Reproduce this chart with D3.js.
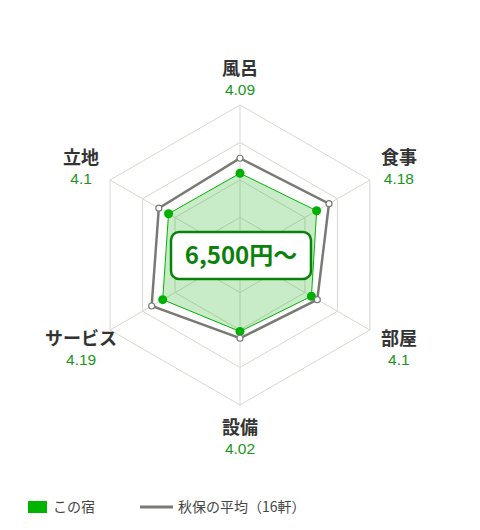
<!DOCTYPE html>
<html>
<head>
<meta charset="utf-8">
<script src="https://cdn.jsdelivr.net/npm/d3@7"></script>
<style>
  body { margin: 0; background: #fff; }
  svg { font-family: "Noto Sans CJK JP", "Noto Sans", sans-serif; }
</style>
</head>
<body>
<div class="radar"></div>
<script>
// axis names, clockwise from top
const categories = ['風呂', '食事', '部屋', '設備', 'サービス', '立地']
const hotelScores = [4.09, 4.18, 4.1, 4.02, 4.19, 4.1]
const areaAverage = [4.29, 4.37, 4.19, 4.11, 4.36, 4.25]
const ringLevels = [3.5, 4, 4.5, 5]
const priceLabel = '6,500円～'
const legendLabels = ['この宿', '秋保の平均（16軒）']

const width = 480
const height = 530
const cx = 240
const cy = 255
const radius = 150

const svg = d3.select('.radar').append('svg')
  .attr('width', width)
  .attr('height', height)

const r = d3.scaleLinear().domain([3, 5]).range([0, radius])
const angle = d3.scaleLinear().domain([0, categories.length]).range([0, 2 * Math.PI])

const pt = (i, v) => {
  const a = angle(i)
  return [cx + r(v) * Math.sin(a), cy - r(v) * Math.cos(a)]
}

const line = d3.line()
const closed = vals => line(vals.map((v, i) => pt(i, v))) + 'Z'

const grid = svg.append('g')

// rings
grid.selectAll('.ring')
  .data(ringLevels)
  .enter()
  .append('path')
  .attr('d', lv => closed(categories.map(() => lv)))
  .attr('fill', 'none')
  .attr('stroke', '#d8d8cf')
  .attr('stroke-width', 1)

// spokes
grid.selectAll('.spoke')
  .data(categories)
  .enter()
  .append('line')
  .attr('x1', cx)
  .attr('y1', cy)
  .attr('x2', (d, i) => pt(i, 5)[0])
  .attr('y2', (d, i) => pt(i, 5)[1])
  .attr('stroke', '#d8d8cf')
  .attr('stroke-width', 1)

// this hotel
svg.append('path')
  .attr('d', closed(hotelScores))
  .attr('fill', 'rgba(30, 180, 30, 0.25)')
  .attr('stroke', '#00b400')
  .attr('stroke-width', 1)

// area average
svg.append('path')
  .attr('d', closed(areaAverage))
  .attr('fill', 'none')
  .attr('stroke', '#7a7a74')
  .attr('stroke-width', 2.5)

svg.selectAll('.dot')
  .data(hotelScores)
  .enter()
  .append('circle')
  .attr('cx', (v, i) => pt(i, v)[0])
  .attr('cy', (v, i) => pt(i, v)[1])
  .attr('r', 4.5)
  .attr('fill', '#00b000')

svg.selectAll('.avgdot')
  .data(areaAverage)
  .enter()
  .append('circle')
  .attr('cx', (v, i) => pt(i, v)[0])
  .attr('cy', (v, i) => pt(i, v)[1])
  .attr('r', 3)
  .attr('fill', '#fff')
  .attr('stroke', '#7a7a74')
  .attr('stroke-width', 1.2)

// axis labels: name + score as two lines of one text
const labelPos = (i) => {
  const a = angle(i)
  const s = Math.sin(a)
  const c = Math.cos(a)
  if (Math.abs(s) < 0.01) {
    return c > 0 ? [cx, cy - radius - 30] : [cx, cy + radius + 29]
  }
  return [cx + s * radius + Math.sign(s) * 29, cy - c * radius + (c > 0 ? -16 : 15)]
}

const labels = svg.selectAll('.lbl')
  .data(categories)
  .enter()
  .append('text')
  .attr('transform', (d, i) => `translate(${labelPos(i)})`)
  .attr('text-anchor', 'middle')

labels.append('tspan')
  .attr('x', 0)
  .style('font-size', '18px')
  .style('font-weight', 700)
  .style('fill', '#333')
  .text(d => d)

labels.append('tspan')
  .attr('x', 0)
  .attr('dy', 20)
  .style('font-family', '"Liberation Sans", Arial, sans-serif')
  .style('font-size', '15.5px')
  .style('fill', '#1a961a')
  .text((d, i) => hotelScores[i])

// price badge
svg.append('rect')
  .attr('x', 171)
  .attr('y', 232)
  .attr('width', 140)
  .attr('height', 47)
  .attr('rx', 8)
  .attr('fill', '#fff')
  .attr('stroke', '#0a820a')
  .attr('stroke-width', 2.5)

svg.append('text')
  .attr('x', 241)
  .attr('y', 264)
  .attr('text-anchor', 'middle')
  .style('font-size', '24px')
  .style('font-weight', 700)
  .style('fill', '#0a820a')
  .text(priceLabel)

// legend
const legend = svg.append('g').style('font-size', '14px').style('fill', '#444')

legend.append('rect')
  .attr('x', 28).attr('y', 501)
  .attr('width', 19).attr('height', 12)
  .attr('fill', '#00b400')

legend.append('text')
  .attr('x', 53).attr('y', 512)
  .text(legendLabels[0])

legend.append('line')
  .attr('x1', 140).attr('x2', 173)
  .attr('y1', 507).attr('y2', 507)
  .attr('stroke', '#7a7a74')
  .attr('stroke-width', 3)

legend.append('text')
  .attr('x', 178).attr('y', 512)
  .text(legendLabels[1])
</script>
</body>
</html>
